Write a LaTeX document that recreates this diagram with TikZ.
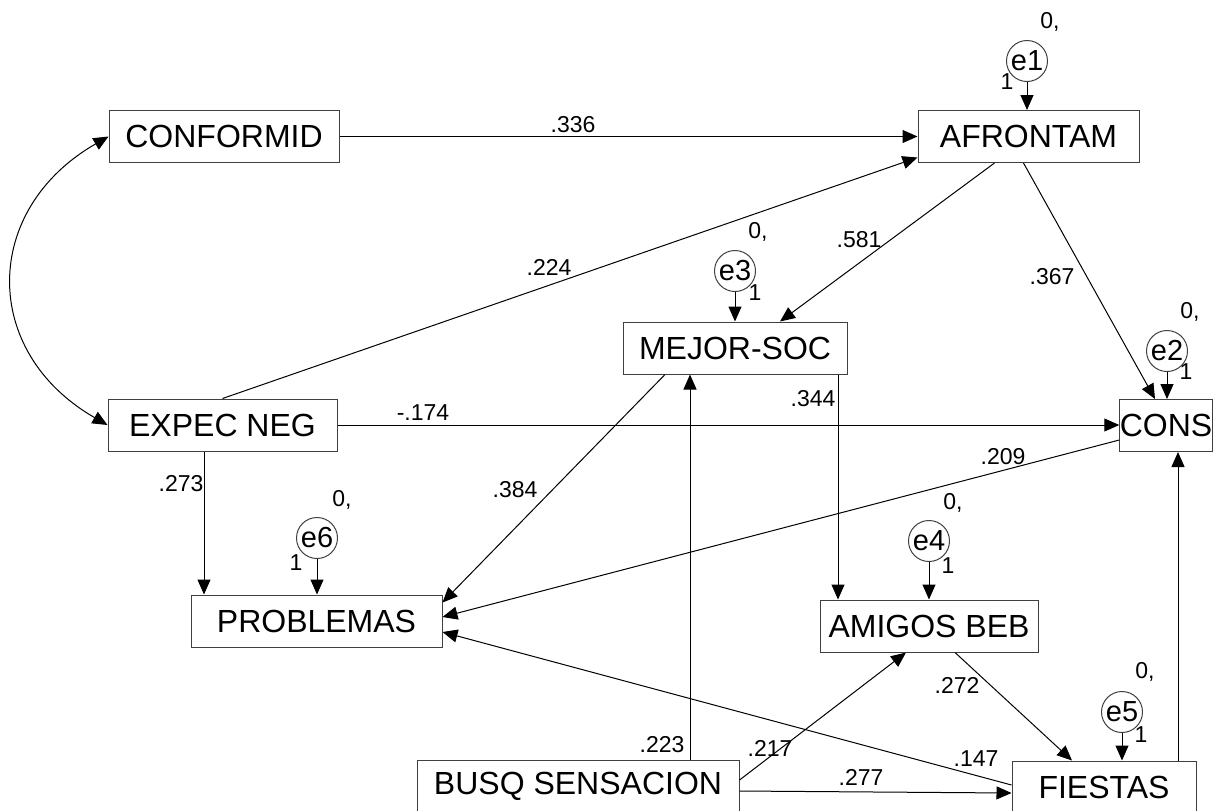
\documentclass[tikz,border=0pt]{standalone}
\usepackage{fontspec}
\setmainfont{Liberation Sans}
\usetikzlibrary{arrows.meta,calc}

\begin{document}
\begin{tikzpicture}[x=0.5pt,y=-0.5pt,
  >={Triangle[length=7.5pt,width=6.5pt]},
  var/.style={draw=black!75,line width=0.5pt,minimum height=26pt,inner sep=1pt,
    font=\fontsize{16}{17}\selectfont},
  err/.style={circle,draw=black!75,line width=0.5pt,inner sep=0pt,minimum size=20.5pt,
    font=\fontsize{14.5}{15}\selectfont},
  coef/.style={inner sep=0pt,font=\fontsize{11.5}{12}\selectfont},
  reg/.style={->,line width=0.5pt}]

  \useasboundingbox (0,0) rectangle (1215,810);
  \fill[white] (0,0) rectangle (1215,810);

  % observed variables (pixel grid, y downwards)
  \node[var,minimum width=115pt] (confor) at (224,136.5) {CONFORMID};
  \node[var,minimum width=114.5pt] (expec) at (222.5,425) {EXPEC NEG};
  \node[var,minimum width=110.5pt] (afront) at (1028.5,136.5) {AFRONTAM};
  \node[var,minimum width=112pt] (mejor) at (735,348) {MEJOR-SOC};
  \node[var,minimum width=46pt,inner sep=0pt] (cons) at (1166,425.5) {CONS};
  \node[var,minimum width=125.5pt] (problemas) at (316.5,621) {PROBLEMAS};
  \node[var,minimum width=109pt] (amigos) at (929,626) {AMIGOS BEB};
  \node[var,minimum width=161pt] (busq) at (578,786) {BUSQ SENSACION};
  \node[var,minimum width=92pt] (fiestas) at (1104,787) {FIESTAS};

  % error terms
  \node[err] (e1) at (1027,61) {e1};
  \node[coef] (e1m) at ($(e1)+(23,-39)$) {0,};
  \node[coef] (e1w) at ($(e1)+(-20,21)$) {1};
  \draw[reg] (e1) -- (e1 |- afront.north);

  \node[err] (e2) at (1167,351) {e2};
  \node[coef] (e2m) at ($(e2)+(23,-39)$) {0,};
  \node[coef] (e2w) at ($(e2)+(19,21)$) {1};
  \draw[reg] (e2) -- (e2 |- cons.north);

  \node[err] (e3) at (735,271) {e3};
  \node[coef] (e3m) at ($(e3)+(23,-39)$) {0,};
  \node[coef] (e3w) at ($(e3)+(20,22)$) {1};
  \draw[reg] (e3) -- (e3 |- mejor.north);

  \node[err] (e4) at (929,541) {e4};
  \node[coef] (e4m) at ($(e4)+(24,-38)$) {0,};
  \node[coef] (e4w) at ($(e4)+(19,25)$) {1};
  \draw[reg] (e4) -- (e4 |- amigos.north);

  \node[err] (e5) at (1122,712) {e5};
  \node[coef] (e5m) at ($(e5)+(23,-40)$) {0,};
  \node[coef] (e5w) at ($(e5)+(19,23)$) {1};
  \draw[reg] (e5) -- (e5 |- fiestas.north);

  \node[err] (e6) at (317,538) {e6};
  \node[coef] (e6m) at ($(e6)+(25,-38)$) {0,};
  \node[coef] (e6w) at ($(e6)+(-21,25)$) {1};
  \draw[reg] (e6) -- (e6 |- problemas.north);

  % covariance
  \draw[<->,line width=0.5pt] (confor.west)
    .. controls ($(confor.west)+(-127,73)$) and ($(expec.west)+(-127,-73)$) .. (expec.west);

  % regression paths
  \draw[reg] (confor.east) -- (afront.west);
  \draw[reg] (expec.north) -- ($(afront.west)+(0,21)$);
  \draw[reg] ($(afront.south)+(-34,0)$) -- ($(mejor.north)+(45,0)$);
  \draw[reg] ($(afront.south)+(-5,0)$) -- ($(cons.north)+(-11,0)$);
  \draw[reg] (expec.east) -- (expec.east -| cons.west);
  \draw[reg] ($(expec.south)+(-18.5,0)$) -- ($(problemas.north)+(-112.5,0)$);
  \draw[reg] ($(mejor.south)+(-70,0)$) -- ($(problemas.north east)+(0,8)$);
  \draw[reg] ($(mejor.south)+(103,0)$) -- ($(amigos.north)+(-91,0)$);
  \draw[reg] ($(cons.west)+(0,14.5)$) -- ($(problemas.east)+(0,-4)$);
  \draw[reg] ($(busq.north)+(112,0)$) -- ($(mejor.south)+(-45,0)$);
  \draw[reg] ($(busq.east)+(0,-6)$) -- ($(amigos.south)+(-23,0)$);
  \draw[reg] ($(busq.east)+(0,5)$) -- ($(fiestas.west)+(0,6)$);
  \draw[reg] ($(fiestas.west)+(0,-2)$) -- ($(problemas.east)+(0,11)$);
  \draw[reg] ($(amigos.south)+(26,0)$) -- ($(fiestas.north)+(-32,0)$);
  \draw[reg] ($(fiestas.north)+(74,0)$) -- ($(cons.south)+(12,0)$);

  % path coefficients
  \node[coef] (kconfafr) at (573,125) {.336};
  \node[coef] (kexpafr) at (549,267) {.224};
  \node[coef] (kafrmej) at (859,240) {.581};
  \node[coef] (kafrcon) at (1052,277) {.367};
  \node[coef] (kexpcon) at (423,413) {-.174};
  \node[coef] (kmejami) at (813,399) {.344};
  \node[coef] (kexppro) at (181,484) {.273};
  \node[coef] (kmejpro) at (515,490) {.384};
  \node[coef] (kconpro) at (1003,457) {.209};
  \node[coef] (kbusmej) at (662,745) {.223};
  \node[coef] (kbusami) at (770,748) {.217};
  \node[coef] (kbusfie) at (861,777) {.277};
  \node[coef] (kfiepro) at (976,759) {.147};
  \node[coef] (kamifie) at (957,685) {.272};
\end{tikzpicture}
\end{document}
